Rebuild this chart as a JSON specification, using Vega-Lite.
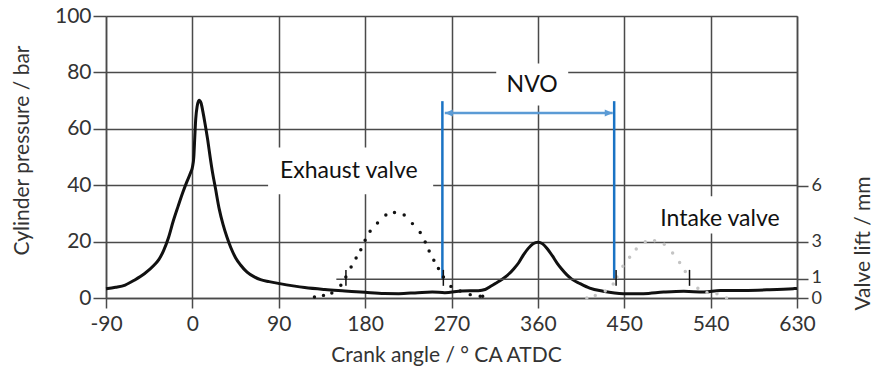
{
  "$schema": "https://vega.github.io/schema/vega-lite/v6.json",
  "width": 691,
  "height": 282,
  "autosize": "none",
  "padding": {"left": 106, "top": 16, "right": 77, "bottom": 74},
  "background": "white",
  "config": {
    "view": {"stroke": null},
    "font": "Lato",
    "axis": {
      "labelFont": "Lato", "labelFontSize": 21, "labelColor": "#333333",
      "labelFlush": false, "labelOverlap": false, "labelExpr": "'' + datum.value",
      "titleFont": "Lato", "titleFontSize": 21, "titleFontWeight": "normal", "titleColor": "#333333",
      "domainColor": "#4a4a4a", "domainWidth": 1.5,
      "tickColor": "#4a4a4a", "tickWidth": 1.5,
      "gridColor": "#4a4a4a", "gridWidth": 1.5, "gridOpacity": 1
    }
  },
  "datasets": {
    "pressure": [
      {"ca": -90, "p": 3.3}, {"ca": -80, "p": 3.8}, {"ca": -70, "p": 4.6}, {"ca": -60, "p": 6.4},
      {"ca": -50, "p": 8.6}, {"ca": -40, "p": 11.6}, {"ca": -35, "p": 13.6}, {"ca": -30, "p": 16.8},
      {"ca": -25, "p": 21.3}, {"ca": -20, "p": 27.2}, {"ca": -15, "p": 32.4}, {"ca": -10, "p": 37.4},
      {"ca": -6, "p": 41.0}, {"ca": -2, "p": 44.3}, {"ca": 0, "p": 46.3}, {"ca": 1.5, "p": 50},
      {"ca": 2.5, "p": 57}, {"ca": 3.5, "p": 63.5}, {"ca": 5, "p": 68}, {"ca": 7, "p": 70.1},
      {"ca": 9, "p": 69.2}, {"ca": 11, "p": 66}, {"ca": 13.2, "p": 61.8}, {"ca": 16, "p": 56},
      {"ca": 18.5, "p": 50}, {"ca": 21, "p": 44.5}, {"ca": 24, "p": 39}, {"ca": 28, "p": 31.5},
      {"ca": 32, "p": 26}, {"ca": 36, "p": 21.6}, {"ca": 40, "p": 17.9}, {"ca": 45, "p": 14.3},
      {"ca": 50, "p": 11.8}, {"ca": 57, "p": 9.2}, {"ca": 65, "p": 7.4}, {"ca": 71, "p": 6.5},
      {"ca": 80, "p": 5.8}, {"ca": 91, "p": 5.1}, {"ca": 105, "p": 4.3}, {"ca": 117, "p": 3.7},
      {"ca": 138, "p": 3.0}, {"ca": 159, "p": 2.5}, {"ca": 180, "p": 2.0}, {"ca": 200, "p": 1.6},
      {"ca": 215, "p": 1.55}, {"ca": 235, "p": 1.9}, {"ca": 250, "p": 2.1}, {"ca": 263, "p": 1.9},
      {"ca": 281, "p": 2.5}, {"ca": 298, "p": 2.6}, {"ca": 305, "p": 3.0}, {"ca": 310, "p": 4.0},
      {"ca": 315, "p": 5.0}, {"ca": 320, "p": 6.0}, {"ca": 325, "p": 7.2}, {"ca": 330, "p": 8.6},
      {"ca": 335, "p": 10.4}, {"ca": 340, "p": 12.5}, {"ca": 345, "p": 15.3}, {"ca": 350, "p": 17.6},
      {"ca": 355, "p": 19.2}, {"ca": 360, "p": 19.8}, {"ca": 365, "p": 19.2}, {"ca": 370, "p": 17.4},
      {"ca": 375, "p": 15.0}, {"ca": 380, "p": 12.4}, {"ca": 385, "p": 10.2}, {"ca": 390, "p": 8.3},
      {"ca": 395, "p": 6.8}, {"ca": 404, "p": 5.1}, {"ca": 414, "p": 3.5}, {"ca": 428, "p": 2.4},
      {"ca": 449, "p": 1.55}, {"ca": 470, "p": 1.55}, {"ca": 491, "p": 2.1}, {"ca": 512, "p": 2.4},
      {"ca": 533, "p": 2.1}, {"ca": 550, "p": 2.7}, {"ca": 575, "p": 2.7}, {"ca": 600, "p": 2.9},
      {"ca": 626, "p": 3.3}, {"ca": 630, "p": 3.4}
    ],
    "exhaust": [
      {"ca": 127.2, "lift": 0.05}, {"ca": 136.6, "lift": 0.14}, {"ca": 145.3, "lift": 0.27},
      {"ca": 154.7, "lift": 0.68}, {"ca": 159.9, "lift": 1.12}, {"ca": 165.4, "lift": 1.66},
      {"ca": 170.6, "lift": 2.14}, {"ca": 175.5, "lift": 2.58}, {"ca": 180, "lift": 3.08},
      {"ca": 185.2, "lift": 3.56}, {"ca": 192.9, "lift": 4.0}, {"ca": 201.6, "lift": 4.43},
      {"ca": 210.6, "lift": 4.56}, {"ca": 220.7, "lift": 4.43}, {"ca": 229.3, "lift": 3.97},
      {"ca": 237.4, "lift": 3.49}, {"ca": 242.6, "lift": 2.99}, {"ca": 246.7, "lift": 2.51},
      {"ca": 251.6, "lift": 2.01}, {"ca": 256.4, "lift": 1.57}, {"ca": 261.6, "lift": 1.12},
      {"ca": 269.4, "lift": 0.62}, {"ca": 279, "lift": 0.37}, {"ca": 289.5, "lift": 0.18},
      {"ca": 299.9, "lift": 0.09}, {"ca": 302.5, "lift": 0.09}
    ],
    "intake": [
      {"ca": 411, "lift": 0.0}, {"ca": 419.8, "lift": 0.14}, {"ca": 430.2, "lift": 0.37},
      {"ca": 438.5, "lift": 0.75}, {"ca": 442.4, "lift": 1.12}, {"ca": 448.6, "lift": 1.69},
      {"ca": 455.6, "lift": 2.18}, {"ca": 462.5, "lift": 2.62}, {"ca": 471.9, "lift": 3.0},
      {"ca": 481.6, "lift": 3.06}, {"ca": 491.7, "lift": 2.87}, {"ca": 500.4, "lift": 2.4},
      {"ca": 507.7, "lift": 1.9}, {"ca": 513.6, "lift": 1.42}, {"ca": 526.7, "lift": 0.52},
      {"ca": 536.2, "lift": 0.3}, {"ca": 546.6, "lift": 0.23}, {"ca": 556.6, "lift": 0.0}
    ],
    "events": [
      {"ca": 160, "lo": 0.65, "hi": 1.5},
      {"ca": 261.5, "lo": 0.65, "hi": 1.5},
      {"ca": 441.5, "lo": 0.65, "hi": 1.5},
      {"ca": 518, "lo": 0.65, "hi": 1.5}
    ],
    "boxes": [
      {"x0": 78.9, "x1": 250.9, "y0": 36.8, "y1": 53.4},
      {"x0": 316.6, "x1": 391.6, "y0": 68.3, "y1": 83.2},
      {"x0": 471.7, "x1": 625, "y0": 22.9, "y1": 36.1}
    ],
    "notes": [
      {"ca": 163, "p": 45.2, "label": "Exhaust valve"},
      {"ca": 354, "p": 75.7, "label": "NVO"},
      {"ca": 549.7, "p": 28, "label": "Intake valve"}
    ],
    "nvoLimits": [
      {"ca": 260.5, "lo": 6.8, "hi": 69.8},
      {"ca": 439.5, "lo": 6.8, "hi": 69.8}
    ],
    "nvoSpan": [{"a": 263, "b": 438, "p": 65.6}],
    "nvoHeads": [
      {"ca": 263, "p": 65.6, "dir": "left"},
      {"ca": 438, "p": 65.6, "dir": "right"}
    ],
    "liftGrid": [{"a": 150, "b": 630, "lift": 1}]
  },
  "layer": [
    {
      "layer": [
        {
          "data": {"name": "boxes"},
          "mark": {"type": "rect", "fill": "white", "stroke": null},
          "encoding": {
            "x": {"field": "x0", "type": "quantitative", "scale": {"domain": [-90, 630], "nice": false},
              "axis": {"values": [-90, 0, 90, 180, 270, 360, 450, 540, 630], "grid": true, "tickSize": 10,
                "labelPadding": 5, "title": "Crank angle / ° CA ATDC", "titleX": 340, "titleY": 57,
                "titleBaseline": "middle"}},
            "x2": {"field": "x1"},
            "y": {"field": "y0", "type": "quantitative", "scale": {"domain": [0, 100], "nice": false},
              "axis": {"values": [0, 20, 40, 60, 80, 100], "grid": true, "tickSize": 13, "labelPadding": 2,
                "title": "Cylinder pressure / bar", "titleX": -84, "titleY": 134,
                "titleBaseline": "middle"}},
            "y2": {"field": "y1"}
          }
        },
        {
          "data": {"name": "pressure"},
          "mark": {"type": "line", "color": "#111111", "strokeWidth": 3, "interpolate": "monotone", "strokeJoin": "round"},
          "encoding": {
            "x": {"field": "ca", "type": "quantitative", "scale": {"domain": [-90, 630], "nice": false}},
            "y": {"field": "p", "type": "quantitative", "scale": {"domain": [0, 100], "nice": false}}
          }
        },
        {
          "data": {"name": "nvoLimits"},
          "mark": {"type": "rule", "color": "#1a73c4", "strokeWidth": 2.5},
          "encoding": {
            "x": {"field": "ca", "type": "quantitative", "scale": {"domain": [-90, 630], "nice": false}},
            "y": {"field": "lo", "type": "quantitative", "scale": {"domain": [0, 100], "nice": false}},
            "y2": {"field": "hi"}
          }
        },
        {
          "data": {"name": "nvoSpan"},
          "mark": {"type": "rule", "color": "#5b9bd5", "strokeWidth": 2.5},
          "encoding": {
            "x": {"field": "a", "type": "quantitative", "scale": {"domain": [-90, 630], "nice": false}},
            "x2": {"field": "b"},
            "y": {"field": "p", "type": "quantitative", "scale": {"domain": [0, 100], "nice": false}}
          }
        },
        {
          "data": {"name": "nvoHeads"},
          "mark": {"type": "point", "filled": true, "color": "#5b9bd5", "opacity": 1, "size": 64},
          "encoding": {
            "x": {"field": "ca", "type": "quantitative", "scale": {"domain": [-90, 630], "nice": false}},
            "y": {"field": "p", "type": "quantitative", "scale": {"domain": [0, 100], "nice": false}},
            "shape": {"field": "dir", "type": "nominal", "legend": null,
              "scale": {"domain": ["left", "right"], "range": ["M0,0L2,-0.9L2,0.9Z", "M0,0L-2,-0.9L-2,0.9Z"]}}
          }
        },
        {
          "data": {"name": "notes"},
          "mark": {"type": "text", "font": "Lato", "fontSize": 23, "color": "#111111", "align": "center", "baseline": "middle"},
          "encoding": {
            "x": {"field": "ca", "type": "quantitative", "scale": {"domain": [-90, 630], "nice": false}},
            "y": {"field": "p", "type": "quantitative", "scale": {"domain": [0, 100], "nice": false}},
            "text": {"field": "label"}
          }
        }
      ]
    },
    {
      "layer": [
        {
          "data": {"name": "liftGrid"},
          "mark": {"type": "rule", "color": "#4a4a4a", "strokeWidth": 1.5},
          "encoding": {
            "x": {"field": "a", "type": "quantitative", "scale": {"domain": [-90, 630], "nice": false}},
            "x2": {"field": "b"},
            "y": {"field": "lift", "type": "quantitative", "scale": {"domain": [0, 15.05], "nice": false},
              "axis": {"orient": "right", "values": [0, 1, 3, 6], "grid": false, "tickSize": 11, "labelPadding": 3,
                "labelFontSize": 18,
                "labelOffset": {"condition": {"test": "datum.value == 1", "value": -2}, "value": 0},
                "title": "Valve lift / mm", "titleX": 66, "titleY": 227, "titleAngle": 270,
                "titleBaseline": "middle"}}
          }
        },
        {
          "data": {"name": "exhaust"},
          "mark": {"type": "point", "filled": true, "color": "#111111", "opacity": 1, "size": 12},
          "encoding": {
            "x": {"field": "ca", "type": "quantitative", "scale": {"domain": [-90, 630], "nice": false}},
            "y": {"field": "lift", "type": "quantitative", "scale": {"domain": [0, 15.05], "nice": false}}
          }
        },
        {
          "data": {"name": "intake"},
          "mark": {"type": "point", "filled": true, "color": "#c4c4c4", "opacity": 1, "size": 12},
          "encoding": {
            "x": {"field": "ca", "type": "quantitative", "scale": {"domain": [-90, 630], "nice": false}},
            "y": {"field": "lift", "type": "quantitative", "scale": {"domain": [0, 15.05], "nice": false}}
          }
        },
        {
          "data": {"name": "events"},
          "mark": {"type": "rule", "color": "#111111", "strokeWidth": 1.5},
          "encoding": {
            "x": {"field": "ca", "type": "quantitative", "scale": {"domain": [-90, 630], "nice": false}},
            "y": {"field": "lo", "type": "quantitative", "scale": {"domain": [0, 15.05], "nice": false}},
            "y2": {"field": "hi"}
          }
        }
      ]
    }
  ],
  "resolve": {"scale": {"y": "independent"}}
}
